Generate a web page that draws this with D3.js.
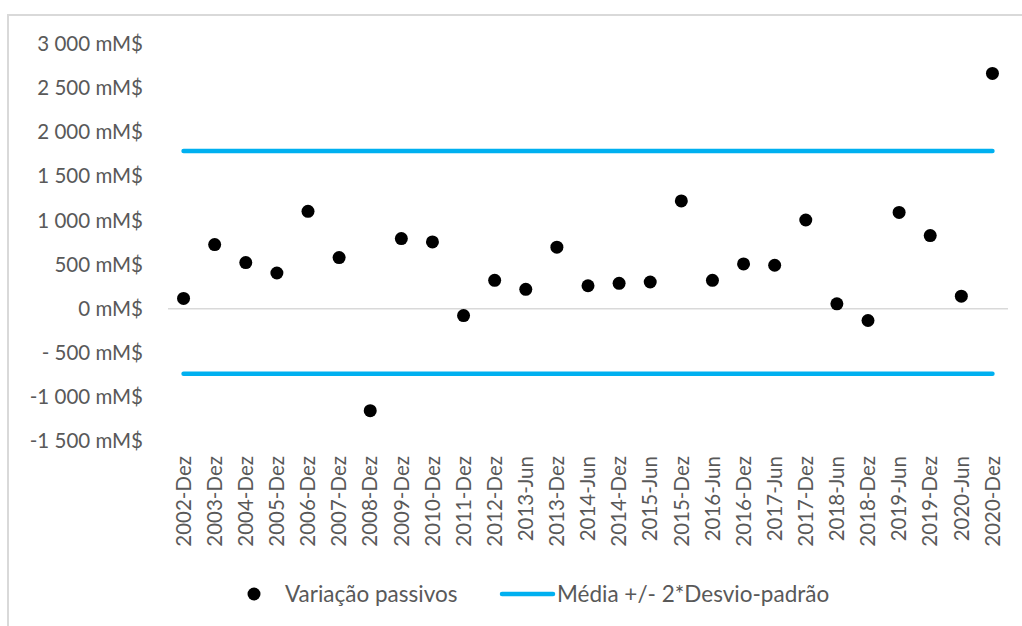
<!DOCTYPE html>
<html>
<head>
<meta charset="utf-8">
<script src="https://cdn.jsdelivr.net/npm/d3@7"></script>
<style>
  html, body { margin: 0; padding: 0; background: #fff; }
  svg { display: block; }
  text { font-family: Lato, "Open Sans", sans-serif; fill: #595959; }
</style>
</head>
<body>
<svg id="chart" width="1022" height="626"></svg>
<script>
// Periods (semester ends) on the horizontal axis
const categories = [
  "2002-Dez","2003-Dez","2004-Dez","2005-Dez","2006-Dez","2007-Dez","2008-Dez",
  "2009-Dez","2010-Dez","2011-Dez","2012-Dez","2013-Jun","2013-Dez","2014-Jun",
  "2014-Dez","2015-Jun","2015-Dez","2016-Jun","2016-Dez","2017-Jun","2017-Dez",
  "2018-Jun","2018-Dez","2019-Jun","2019-Dez","2020-Jun","2020-Dez"
];

// Variação passivos (mM$)
const variacao = [
  116, 727, 522, 404, 1103, 579, -1156,
  795, 757, -78, 321, 219, 697, 260,
  287, 302, 1221, 321, 507, 492, 1005,
  55, -134, 1091, 829, 142, 2667
];

// Control limits: média +/- 2 * desvio-padrão (mM$)
const limiteSuperior = 1786;
const limiteInferior = -738;

// Y axis ticks (mM$)
const yTicks = [3000, 2500, 2000, 1500, 1000, 500, 0, -500, -1000, -1500];

const seriesNames = ["Variação passivos", "Média +/- 2*Desvio-padrão"];

const svg = d3.select("#chart");
const W = 1022, H = 626;
const plot = { left: 168, right: 1008, top: 44, bottom: 441 };

// Chart area frame
svg.append("rect")
  .attr("x", 8).attr("y", 15)
  .attr("width", W + 20).attr("height", H + 20)
  .attr("fill", "#fff")
  .attr("stroke", "#d9d9d9").attr("stroke-width", 2);

const x = d3.scaleBand().domain(categories).range([plot.left, plot.right]).padding(0);
const y = d3.scaleLinear().domain([-1500, 3000]).range([plot.bottom, plot.top]);

const fmt = v => {
  const a = Math.abs(v);
  const s = a >= 1000 ? Math.floor(a / 1000) + " " + String(a % 1000).padStart(3, "0") : String(a);
  if (v < 0) return (a >= 1000 ? "-" : "- ") + s + " mM$";
  return s + " mM$";
};

// Y axis labels (no axis line or ticks)
const yAxis = d3.axisLeft(y).tickValues(yTicks).tickFormat(fmt).tickSize(0).tickPadding(0);
const gy = svg.append("g").attr("transform", "translate(143,0)").call(yAxis);
gy.select(".domain").remove();
gy.selectAll("text")
  .attr("font-family", "Lato, 'Open Sans', sans-serif")
  .attr("font-size", 20.5)
  .attr("fill", "#595959");

// Zero baseline
svg.append("line")
  .attr("x1", plot.left).attr("x2", plot.right)
  .attr("y1", y(0)).attr("y2", y(0))
  .attr("stroke", "#d9d9d9").attr("stroke-width", 1.5);

// X axis category labels, rotated
const xAxis = d3.axisBottom(x).tickSize(0).tickPadding(0);
const gx = svg.append("g").attr("transform", `translate(0,${plot.bottom + 15})`).call(xAxis);
gx.select(".domain").remove();
gx.selectAll("text")
  .attr("font-family", "Lato, 'Open Sans', sans-serif")
  .attr("font-size", 20.5)
  .attr("fill", "#595959")
  .attr("text-anchor", "end")
  .attr("dy", "0.35em")
  .attr("transform", "rotate(-90)");

// Limit lines
const cx = d => x(d) + x.bandwidth() / 2;
const limitLine = d3.line().x(d => cx(d.c)).y(d => y(d.v));
[limiteSuperior, limiteInferior].forEach(v => {
  svg.append("path")
    .datum(categories.map(c => ({ c, v })))
    .attr("d", limitLine)
    .attr("fill", "none")
    .attr("stroke", "#00b0f0")
    .attr("stroke-width", 4.5)
    .attr("stroke-linecap", "round");
});

// Points
svg.append("g").selectAll("circle")
  .data(categories.map((c, i) => ({ c, v: variacao[i] })))
  .join("circle")
  .attr("cx", d => cx(d.c))
  .attr("cy", d => y(d.v))
  .attr("r", 6.5)
  .attr("fill", "#000");

// Legend
const lg = svg.append("g").attr("transform", "translate(0,594)");
lg.append("circle").attr("cx", 254).attr("cy", 0).attr("r", 6.5).attr("fill", "#000");
lg.append("text").attr("x", 285).attr("y", 0).attr("dy", "0.35em")
  .attr("font-size", 22.5).text(seriesNames[0]);
lg.append("line").attr("x1", 502).attr("x2", 553).attr("y1", 0).attr("y2", 0)
  .attr("stroke", "#00b0f0").attr("stroke-width", 4.5).attr("stroke-linecap", "round");
lg.append("text").attr("x", 557).attr("y", 0).attr("dy", "0.35em")
  .attr("font-size", 22.5).text(seriesNames[1]);
</script>
</body>
</html>
